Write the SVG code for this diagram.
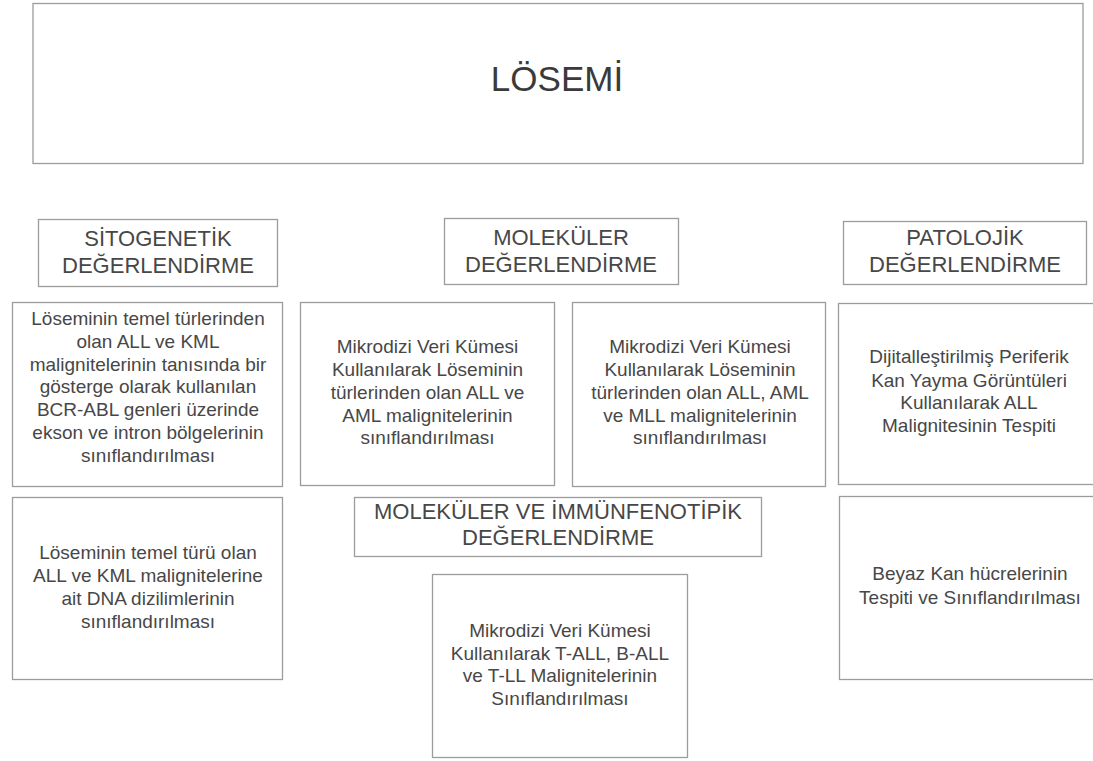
<svg xmlns="http://www.w3.org/2000/svg" width="1093" height="761" viewBox="0 0 1093 761">
  <style>
    .box { fill: #ffffff; stroke: #9c9c9c; stroke-width: 1.3; }
    .t { font-family: "Liberation Sans", Arial, sans-serif; fill: #474747; text-anchor: middle; }
    .title { font-size: 35px; fill: #3a3a3a; }
    .head { font-size: 22px; }
    .body { font-size: 19px; }
  </style>
  <rect width="1093" height="761" fill="#ffffff"/>

  <!-- root -->
  <g id="losemi">
    <rect class="box" x="33" y="3.5" width="1050" height="160"/>
    <text class="t title" x="557" y="91">LÖSEMİ</text>
  </g>

  <!-- category headers -->
  <g id="sitogenetik">
    <rect class="box" x="38.5" y="219.5" width="239" height="67"/>
    <text class="t head" x="158" y="246">SİTOGENETİK</text>
    <text class="t head" x="158" y="273">DEĞERLENDİRME</text>
  </g>
  <g id="molekuler">
    <rect class="box" x="444.5" y="218.5" width="234" height="66"/>
    <text class="t head" x="561" y="245">MOLEKÜLER</text>
    <text class="t head" x="561" y="272">DEĞERLENDİRME</text>
  </g>
  <g id="patolojik">
    <rect class="box" x="843.5" y="221.5" width="243" height="63"/>
    <text class="t head" x="965" y="245">PATOLOJİK</text>
    <text class="t head" x="965" y="272">DEĞERLENDİRME</text>
  </g>
  <g id="molekuler-immunfenotipik">
    <rect class="box" x="354.5" y="497.5" width="407" height="59"/>
    <text class="t head" x="558" y="519">MOLEKÜLER VE İMMÜNFENOTİPİK</text>
    <text class="t head" x="558" y="545">DEĞERLENDİRME</text>
  </g>

  <!-- study boxes -->
  <g id="bcr-abl">
    <rect class="box" x="12.5" y="302.5" width="270" height="184"/>
    <text class="t body" x="148" y="325">Löseminin temel türlerinden</text>
    <text class="t body" x="148" y="348">olan ALL ve KML</text>
    <text class="t body" x="148" y="371">malignitelerinin tanısında bir</text>
    <text class="t body" x="148" y="393">gösterge olarak kullanılan</text>
    <text class="t body" x="148" y="416">BCR-ABL genleri üzerinde</text>
    <text class="t body" x="148" y="439">ekson ve intron bölgelerinin</text>
    <text class="t body" x="148" y="462">sınıflandırılması</text>
  </g>
  <g id="dna-dizilimleri">
    <rect class="box" x="12.5" y="497.5" width="270" height="182"/>
    <text class="t body" x="148" y="559">Löseminin temel türü olan</text>
    <text class="t body" x="148" y="582">ALL ve KML malignitelerine</text>
    <text class="t body" x="148" y="605">ait DNA dizilimlerinin</text>
    <text class="t body" x="148" y="628">sınıflandırılması</text>
  </g>
  <g id="mikrodizi-all-aml">
    <rect class="box" x="300.5" y="302.5" width="254" height="183"/>
    <text class="t body" x="427.5" y="353">Mikrodizi Veri Kümesi</text>
    <text class="t body" x="427.5" y="376">Kullanılarak Löseminin</text>
    <text class="t body" x="427.5" y="399">türlerinden olan ALL ve</text>
    <text class="t body" x="427.5" y="422">AML malignitelerinin</text>
    <text class="t body" x="427.5" y="444">sınıflandırılması</text>
  </g>
  <g id="mikrodizi-all-aml-mll">
    <rect class="box" x="572.5" y="302.5" width="253" height="184"/>
    <text class="t body" x="700" y="353">Mikrodizi Veri Kümesi</text>
    <text class="t body" x="700" y="376">Kullanılarak Löseminin</text>
    <text class="t body" x="700" y="399">türlerinden olan ALL, AML</text>
    <text class="t body" x="700" y="422">ve MLL malignitelerinin</text>
    <text class="t body" x="700" y="444">sınıflandırılması</text>
  </g>
  <g id="periferik-kan">
    <rect class="box" x="838.5" y="303.5" width="262" height="181"/>
    <text class="t body" x="969" y="363">Dijitalleştirilmiş  Periferik</text>
    <text class="t body" x="969" y="387">Kan Yayma Görüntüleri</text>
    <text class="t body" x="969" y="409">Kullanılarak ALL</text>
    <text class="t body" x="969" y="432">Malignitesinin Tespiti</text>
  </g>
  <g id="beyaz-kan">
    <rect class="box" x="839.5" y="496.5" width="262" height="183"/>
    <text class="t body" x="970" y="580">Beyaz Kan hücrelerinin</text>
    <text class="t body" x="970" y="604">Tespiti ve Sınıflandırılması</text>
  </g>
  <g id="mikrodizi-t-all">
    <rect class="box" x="432.5" y="574.5" width="255" height="183"/>
    <text class="t body" x="560" y="637">Mikrodizi Veri Kümesi</text>
    <text class="t body" x="560" y="660">Kullanılarak T-ALL, B-ALL</text>
    <text class="t body" x="560" y="682">ve T-LL Malignitelerinin</text>
    <text class="t body" x="560" y="705">Sınıflandırılması</text>
  </g>
</svg>
